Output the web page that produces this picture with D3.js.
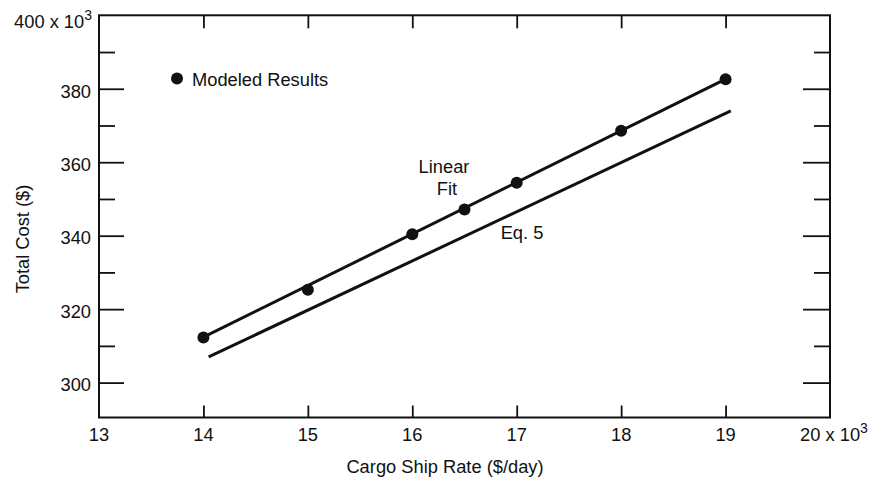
<!DOCTYPE html>
<html>
<head>
<meta charset="utf-8">
<script src="https://cdn.jsdelivr.net/npm/d3@7"></script>
<style>
  html, body { margin: 0; padding: 0; background: #fff; }
  svg text { font-family: "Liberation Sans", Arial, sans-serif; fill: #111; }
</style>
</head>
<body>
<svg id="chart" width="875" height="481"></svg>
<script>
// Cargo ship rate (thousands of $/day) and modeled total cost (thousands of $)
const rateK = [14, 15, 16, 16.5, 17, 18, 19];
const costK = [312.3, 325.3, 340.4, 347.1, 354.4, 368.6, 382.6];

// Linear fit through the modeled results
const fitRate = [14, 19];
const fitCost = [312.4, 382.6];

// Eq. 5 prediction
const eqRate = [14.05, 19.05];
const eqCost = [307.0, 374.0];

// Axis ticks
const xTicks = [13, 14, 15, 16, 17, 18, 19, 20];
const yMajorTicks = [300, 320, 340, 360, 380, 400];
const yMinorTicks = [310, 330, 350, 370, 390];

const legendLabel = "Modeled Results";
const xTitle = "Cargo Ship Rate ($/day)";
const yTitle = "Total Cost ($)";

const svg = d3.select("#chart");
const plotL = 99, plotR = 830, plotT = 15.3, plotB = 417.5;
const fs = 18.3;
const supFs = 14;

const x = d3.scaleLinear().domain([13, 20]).range([plotL, plotR]);
const y = d3.scaleLinear().domain([290.5, 400]).range([plotB, plotT]);

// Frame ticks (drawn inward on all four sides)
function styleAxis(g) {
  g.select(".domain").remove();
  g.selectAll(".tick line").attr("stroke", "#111").attr("stroke-width", 1.8);
}

svg.append("g").attr("transform", `translate(0,${plotB})`)
  .call(d3.axisBottom(x).tickValues(xTicks.slice(1, -1)).tickSize(-12).tickFormat(""))
  .call(styleAxis);
svg.append("g").attr("transform", `translate(0,${plotT})`)
  .call(d3.axisTop(x).tickValues(xTicks.slice(1, -1)).tickSize(-13).tickFormat(""))
  .call(styleAxis);
svg.append("g").attr("transform", `translate(${plotL},0)`)
  .call(d3.axisLeft(y).tickValues(yMajorTicks.slice(0, -1)).tickSize(-25).tickFormat(""))
  .call(styleAxis);
svg.append("g").attr("transform", `translate(${plotL},0)`)
  .call(d3.axisLeft(y).tickValues(yMinorTicks).tickSize(-16).tickFormat(""))
  .call(styleAxis);
svg.append("g").attr("transform", `translate(${plotR},0)`)
  .call(d3.axisRight(y).tickValues(yMajorTicks.slice(0, -1)).tickSize(-27).tickFormat(""))
  .call(styleAxis);
svg.append("g").attr("transform", `translate(${plotR},0)`)
  .call(d3.axisRight(y).tickValues(yMinorTicks).tickSize(-16).tickFormat(""))
  .call(styleAxis);

// Plot frame
svg.append("rect")
  .attr("x", plotL).attr("y", plotT)
  .attr("width", plotR - plotL).attr("height", plotB - plotT)
  .attr("fill", "none").attr("stroke", "#111").attr("stroke-width", 2);

// X tick labels
xTicks.forEach((v, i) => {
  const t = svg.append("text")
    .attr("x", x(v)).attr("y", plotB + 23.3)
    .attr("text-anchor", "middle").attr("font-size", fs);
  if (i === xTicks.length - 1) {
    t.attr("x", x(v) + 4);
    t.append("tspan").text(`${v} x 10`);
    t.append("tspan").attr("font-size", supFs).attr("dy", -8).text("3");
  } else {
    t.text(v);
  }
});

// Y tick labels
yMajorTicks.forEach((v, i) => {
  const last = i === yMajorTicks.length - 1;
  const t = svg.append("text")
    .attr("x", last ? 92 : 91).attr("y", y(v) + (last ? 12.4 : 8.8))
    .attr("text-anchor", "end").attr("font-size", fs);
  if (last) {
    t.append("tspan").text(`${v} x 10`);
    t.append("tspan").attr("font-size", supFs).attr("dy", -8).text("3");
  } else {
    t.text(v);
  }
});

// Axis titles
svg.append("text")
  .attr("x", 445).attr("y", 473)
  .attr("text-anchor", "middle").attr("font-size", fs)
  .text(xTitle);
svg.append("text")
  .attr("transform", "translate(29,239) rotate(-90)")
  .attr("text-anchor", "middle").attr("font-size", fs)
  .text(yTitle);

// Lines
const line = d3.line().x(d => x(d[0])).y(d => y(d[1]));
svg.append("path")
  .datum(d3.zip(fitRate, fitCost))
  .attr("d", line).attr("fill", "none").attr("stroke", "#111").attr("stroke-width", 3);
svg.append("path")
  .datum(d3.zip(eqRate, eqCost))
  .attr("d", line).attr("fill", "none").attr("stroke", "#111").attr("stroke-width", 3);

// Modeled points
svg.append("g").selectAll("circle")
  .data(d3.zip(rateK, costK))
  .join("circle")
  .attr("cx", d => x(d[0])).attr("cy", d => y(d[1]))
  .attr("r", 6).attr("fill", "#111");

// Line annotations
svg.append("text").attr("x", 444).attr("y", 173).attr("text-anchor", "middle")
  .attr("font-size", fs).text("Linear");
svg.append("text").attr("x", 447).attr("y", 195).attr("text-anchor", "middle")
  .attr("font-size", fs).text("Fit");
svg.append("text").attr("x", 522).attr("y", 239).attr("text-anchor", "middle")
  .attr("font-size", fs).text("Eq. 5");

// Legend
svg.append("circle").attr("cx", 177).attr("cy", 78.5).attr("r", 6).attr("fill", "#111");
svg.append("text").attr("x", 192).attr("y", 86).attr("font-size", fs).text(legendLabel);
</script>
</body>
</html>
